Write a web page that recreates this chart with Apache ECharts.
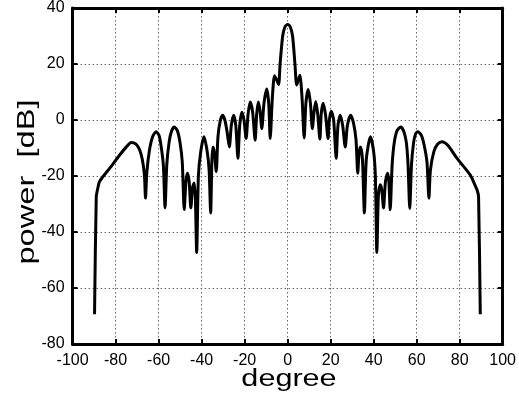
<!DOCTYPE html>
<html>
<head>
<meta charset="utf-8">
<script src="https://cdn.jsdelivr.net/npm/echarts@6/dist/echarts.min.js"></script>
<style>
html,body{margin:0;padding:0;background:#fff;}
#chart{width:519px;height:404px;}
</style>
</head>
<body>
<div id="chart"></div>
<script>
// angle (degree) and power (dB)
const degrees = [
  -89.8, -89.0, -88.4, -87.4, -82.7, -78.1, -75.0, -72.7, -70.5, -68.9, -67.6, -66.6, -66.1, -65.5, -64.3, -62.8, -61.2,
  -59.8, -58.9, -57.8, -57.0, -56.2, -55.1, -54.0, -52.7, -51.3, -50.1, -49.0, -48.1, -47.3, -46.6, -45.8, -45.0,
  -44.2, -43.5, -42.9, -42.3, -41.5, -40.4, -38.9, -37.4, -36.5, -35.8, -35.2, -34.7, -34.0, -33.2, -32.4, -31.4,
  -30.2, -29.2, -28.2, -27.1, -26.2, -25.1, -24.1, -23.1, -22.3, -21.3, -20.3, -19.3, -18.4, -17.4, -16.3, -15.1,
  -14.4, -13.6, -12.8, -12.0, -11.0, -9.7, -8.8, -8.1, -7.1, -6.1, -5.2, -4.2, -3.5, -2.3, -1.2, 0,
  1.2, 2.3, 3.4, 4.2, 5.0, 5.7, 6.7, 7.7, 8.5, 9.6, 10.6, 11.5, 12.3, 13.1, 14.0, 15.0,
  15.6, 16.5, 17.6, 18.8, 19.4, 20.3, 21.4, 22.6, 23.4, 24.5, 25.6, 26.8, 27.8, 29.3, 30.6, 31.8,
  32.6, 33.2, 33.9, 34.8, 35.7, 36.6, 38.5, 40.0, 40.8, 41.5, 42.2, 43.1, 43.8, 44.6, 45.5, 46.5,
  47.1, 47.7, 48.6, 49.6, 50.9, 52.6, 54.0, 55.2, 56.0, 56.8, 57.6, 58.6, 59.5, 60.6, 62.2, 63.5,
  64.8, 65.7, 66.4, 68.0, 69.8, 71.8, 74.5, 78.8, 84.9, 87.0, 88.2, 88.8, 89.6
];
const power = [
  -69.4, -27.5, -24.8, -21.9, -17.2, -12.5, -9.6, -8.0, -8.6, -10.5, -14, -19.6, -27.9, -19, -11, -6, -4.2,
  -5.5, -9, -16, -31.4, -16, -7.8, -4, -2.5, -3.8, -7.8, -15, -32, -22, -19, -22, -31.4,
  -24, -22.5, -28, -47.3, -20, -11.3, -6, -11.3, -18, -33.2, -14, -9.6, -12, -18.4, -6, -0.5,
  1.7, 0, -4, -9.6, -2, 1.7, -2, -13.7, -2, 2.8, 0, -6.6, 2, 6.4, 3, -7.2,
  2, 6.4, 3, -3.1, 6, 11.1, 6, -6.6, 8, 15.8, 14.5, 12.7, 20, 30, 33.3, 34.1,
  33.3, 30, 20, 12.5, 14.5, 16, 8, -6.4, 6, 10.9, 6, -3.1, 3, 6.6, 2, -6.8,
  2, 6, 2, -6.6, 0, 3.1, 0, -13.7, -2, 1.7, -2, -9.6, -2, 1.7, -1, -7,
  -19, -12, -9.6, -14, -33.2, -14, -6, -11.3, -20, -47.3, -27, -23.1, -25, -31.4, -22, -19,
  -22, -32, -16, -8, -3.8, -2.5, -4, -8, -16, -31.6, -16, -8, -5, -4.2, -5.5, -9,
  -15, -27.9, -18, -11.3, -8.6, -7.8, -9, -13.7, -19.6, -23, -25.2, -27.5, -69.4
];
const xTicks = { min: -100, max: 100, interval: 20 };
const yTicks = { min: -80, max: 40, interval: 20 };
const xName = 'degree';
const yName = 'power  [dB]';

const seriesData = degrees.map((d, i) => [d, power[i]]);

const chart = echarts.init(document.getElementById('chart'), null, { renderer: 'canvas' });
const FONT = 'Liberation Sans, Arial, Helvetica, sans-serif';
const gridLine = { show: true, lineStyle: { color: '#666', width: 1, type: [1.5, 2.5] } };
const tick = { show: true, inside: true, length: 5, lineStyle: { color: '#000', width: 2 } };
const axLine = { show: true, onZero: false, lineStyle: { color: '#000', width: 3 } };
const lbl = { color: '#000', fontSize: 16, fontFamily: FONT };

chart.setOption({
  animation: false,
  backgroundColor: '#fff',
  grid: { left: 72.6, right: 13, top: 5, bottom: 60, containLabel: false },
  xAxis: [
    { type: 'value', position: 'bottom', min: xTicks.min, max: xTicks.max, interval: xTicks.interval,
      axisLine: axLine, axisTick: tick, splitLine: gridLine,
      axisLabel: Object.assign({ margin: 9 }, lbl) },
    { type: 'value', position: 'top', min: xTicks.min, max: xTicks.max, interval: xTicks.interval,
      axisLine: axLine, axisTick: tick, splitLine: { show: false }, axisLabel: { show: false } }
  ],
  yAxis: [
    { type: 'value', position: 'left', min: yTicks.min, max: yTicks.max, interval: yTicks.interval,
      axisLine: axLine, axisTick: tick, splitLine: gridLine,
      axisLabel: Object.assign({ margin: 8 }, lbl) },
    { type: 'value', position: 'right', min: yTicks.min, max: yTicks.max, interval: yTicks.interval,
      axisLine: axLine, axisTick: tick, splitLine: { show: false }, axisLabel: { show: false } }
  ],
  graphic: [
    { type: 'text', x: 289, y: 380, scaleX: 1.33, silent: true,
      style: { text: xName, font: '23px ' + FONT, fill: '#000', textAlign: 'center', textVerticalAlign: 'middle' } },
    { type: 'text', x: 27, y: 182, rotation: Math.PI / 2, scaleX: 1.36, silent: true,
      style: { text: yName, font: '24px ' + FONT, fill: '#000', textAlign: 'center', textVerticalAlign: 'middle' } }
  ],
  series: [{
    type: 'line',
    data: seriesData,
    xAxisIndex: 0,
    yAxisIndex: 0,
    showSymbol: false,
    smooth: 0.25,
    lineStyle: { color: '#000', width: 3 },
    clip: true
  }]
});
</script>
</body>
</html>
